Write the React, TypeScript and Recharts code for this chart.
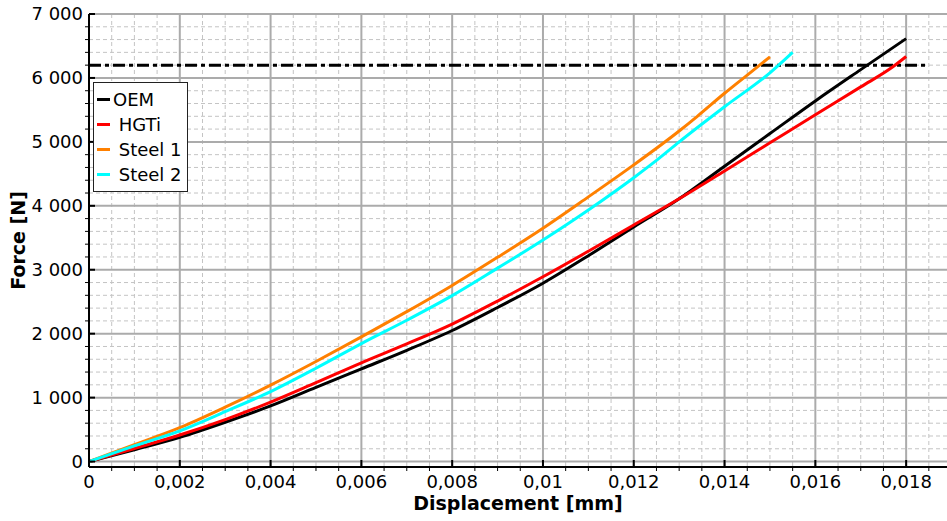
import { LineChart, Line, XAxis, YAxis, CartesianGrid, ReferenceLine } from "recharts";

const FONT = "'DejaVu Sans', Verdana, sans-serif";

// displacement [mm] and force [N]
const dispOEM = [0, 0.001, 0.002, 0.003, 0.004, 0.005, 0.006, 0.007, 0.008, 0.009, 0.01, 0.011, 0.012, 0.013, 0.014, 0.015, 0.016, 0.017, 0.018];
const forceOEM = [0, 185, 380, 615, 870, 1160, 1450, 1740, 2050, 2410, 2790, 3220, 3670, 4110, 4620, 5130, 5640, 6130, 6615];

const dispHGTi = [0, 0.001, 0.002, 0.003, 0.004, 0.005, 0.006, 0.007, 0.008, 0.009, 0.01, 0.011, 0.012, 0.013, 0.014, 0.015, 0.016, 0.017, 0.0177, 0.018];
const forceHGTi = [0, 205, 415, 655, 930, 1235, 1545, 1840, 2150, 2510, 2890, 3290, 3700, 4110, 4545, 4985, 5425, 5860, 6170, 6335];

const dispSteel1 = [0, 0.001, 0.002, 0.003, 0.004, 0.005, 0.006, 0.007, 0.008, 0.009, 0.01, 0.011, 0.012, 0.013, 0.0134, 0.014, 0.0145, 0.015];
const forceSteel1 = [0, 265, 530, 850, 1195, 1565, 1950, 2345, 2755, 3195, 3650, 4140, 4640, 5170, 5400, 5760, 6045, 6330];

const dispSteel2 = [0, 0.001, 0.002, 0.003, 0.004, 0.005, 0.006, 0.007, 0.008, 0.009, 0.01, 0.011, 0.012, 0.0125, 0.013, 0.014, 0.015, 0.0155];
const forceSteel2 = [0, 245, 480, 780, 1095, 1460, 1845, 2210, 2595, 3025, 3465, 3935, 4440, 4710, 5000, 5550, 6080, 6400];

const limitForce = 6200;
const limitEnd = 0.0185;

const xTicks = [0, 0.0005, 0.001, 0.0015, 0.002, 0.0025, 0.003, 0.0035, 0.004, 0.0045, 0.005, 0.0055, 0.006, 0.0065, 0.007, 0.0075, 0.008, 0.0085, 0.009, 0.0095, 0.01, 0.0105, 0.011, 0.0115, 0.012, 0.0125, 0.013, 0.0135, 0.014, 0.0145, 0.015, 0.0155, 0.016, 0.0165, 0.017, 0.0175, 0.018, 0.0185];
const xMajor = [0, 0.002, 0.004, 0.006, 0.008, 0.01, 0.012, 0.014, 0.016, 0.018];
const yTicks = [0, 200, 400, 600, 800, 1000, 1200, 1400, 1600, 1800, 2000, 2200, 2400, 2600, 2800, 3000, 3200, 3400, 3600, 3800, 4000, 4200, 4400, 4600, 4800, 5000, 5200, 5400, 5600, 5800, 6000, 6200, 6400, 6600, 6800, 7000];
const yMajor = [0, 1000, 2000, 3000, 4000, 5000, 6000, 7000];

const xMinor = xTicks.filter((v) => !xMajor.includes(v));
const yMinor = yTicks.filter((v) => !yMajor.includes(v));

const series = [
  { name: "OEM", color: "#000000", disp: dispOEM, force: forceOEM },
  { name: "HGTi", color: "#ff0000", disp: dispHGTi, force: forceHGTi },
  { name: "Steel 1", color: "#ff8000", disp: dispSteel1, force: forceSteel1 },
  { name: "Steel 2", color: "#00ffff", disp: dispSteel2, force: forceSteel2 },
];

const toPoints = (xs: number[], ys: number[]) => xs.map((x, i) => ({ x, y: ys[i] }));

const fmtX = (v: number) => String(Number(v.toFixed(4))).replace(".", ",");
const fmtY = (v: number) => (v >= 1000 ? `${Math.floor(v / 1000)} ${String(v % 1000).padStart(3, "0")}` : String(v));

const XTick = ({ x, y, payload }: any) => {
  const v = payload.value;
  const major = xMajor.includes(v);
  return (
    <g>
      {major ? <line x1={x} x2={x} y1={y} y2={y - 7} stroke="#000" strokeWidth={2} /> : <line x1={x} x2={x} y1={y} y2={y + 4} stroke="#000" strokeWidth={1} />}
      {major && (
        <text x={x} y={y + 21} textAnchor="middle" fontSize={18} fontFamily={FONT} fill="#000">
          {fmtX(v)}
        </text>
      )}
    </g>
  );
};

const YTick = ({ x, y, payload }: any) => {
  const v = payload.value;
  const major = yMajor.includes(v);
  return (
    <g>
      {major ? <line x1={x} x2={x + 6} y1={y} y2={y} stroke="#000" strokeWidth={2} /> : <line x1={x - 4} x2={x} y1={y} y2={y} stroke="#000" strokeWidth={1} />}
      {major && (
        <text x={x - 6} y={y} dy="0.36em" textAnchor="end" fontSize={18} fontFamily={FONT} fill="#000">
          {fmtY(v)}
        </text>
      )}
    </g>
  );
};

const XTitle = ({ viewBox }: any) => (
  <text x={viewBox.x + viewBox.width / 2} y={viewBox.y + 43} textAnchor="middle" fontSize={19} fontWeight="bold" fontFamily={FONT} fill="#000">
    Displacement [mm]
  </text>
);

const YTitle = ({ viewBox }: any) => {
  const cy = viewBox.y + viewBox.height / 2;
  return (
    <text x={18} y={cy} dy="0.36em" textAnchor="middle" transform={`rotate(-90, 18, ${cy})`} fontSize={19} fontWeight="bold" fontFamily={FONT} fill="#000">
      Force [N]
    </text>
  );
};

function ChartLegend() {
  return (
    <div
      style={{
        position: "absolute", left: 93, top: 82, width: 93, height: 104, border: "1px solid #222",
        background: "#fff", fontFamily: FONT, fontSize: 18, paddingTop: 4, boxSizing: "content-box",
      }}
    >
      {series.map((s, i) => (
        <div key={s.name} style={{ height: 25, display: "flex", alignItems: "center", whiteSpace: "pre" }}>
          <span style={{ display: "inline-block", width: 13, height: 3, background: s.color, marginLeft: 3, marginRight: 3 }} />
          <span>{i === 0 ? s.name : " " + s.name}</span>
        </div>
      ))}
    </div>
  );
}

export default function App() {
  return (
    <div style={{ position: "relative", width: 947, height: 521, background: "#fff" }}>
      <style>{"body{margin:0}"}</style>
      <LineChart width={947} height={521} margin={{ top: 14, right: 0, bottom: 0, left: 0 }}>
        <CartesianGrid horizontalValues={yMinor} verticalValues={xMinor} stroke="#c4c4c4" strokeDasharray="4 3" strokeWidth={1} />
        <CartesianGrid horizontalValues={yMajor} verticalValues={xMajor} stroke="#ababab" strokeWidth={2} />
        <XAxis
          type="number"
          dataKey="x"
          domain={[0, 0.0189]}
          ticks={xTicks}
          interval={0}
          tick={<XTick />}
          tickLine={false}
          tickSize={0}
          tickMargin={0}
          height={54}
          axisLine={{ stroke: "#000", strokeWidth: 2 }}
          allowDataOverflow
          label={XTitle}
        />
        <YAxis
          type="number"
          dataKey="y"
          domain={[-85, 7000]}
          ticks={yTicks}
          interval={0}
          tick={<YTick />}
          tickLine={false}
          tickSize={0}
          tickMargin={0}
          width={89}
          axisLine={{ stroke: "#000", strokeWidth: 2 }}
          allowDataOverflow
          label={YTitle}
        />
        <ReferenceLine
          segment={[{ x: 0, y: limitForce }, { x: limitEnd, y: limitForce }]}
          stroke="#000"
          strokeWidth={3}
          strokeDasharray="12 4 4 4"
          ifOverflow="visible"
        />
        {series.map((s) => (
          <Line
            key={s.name}
            data={toPoints(s.disp, s.force)}
            dataKey="y"
            name={s.name}
            type="monotone"
            stroke={s.color}
            strokeWidth={3}
            dot={false}
            isAnimationActive={false}
          />
        ))}
      </LineChart>
      <ChartLegend />
    </div>
  );
}
